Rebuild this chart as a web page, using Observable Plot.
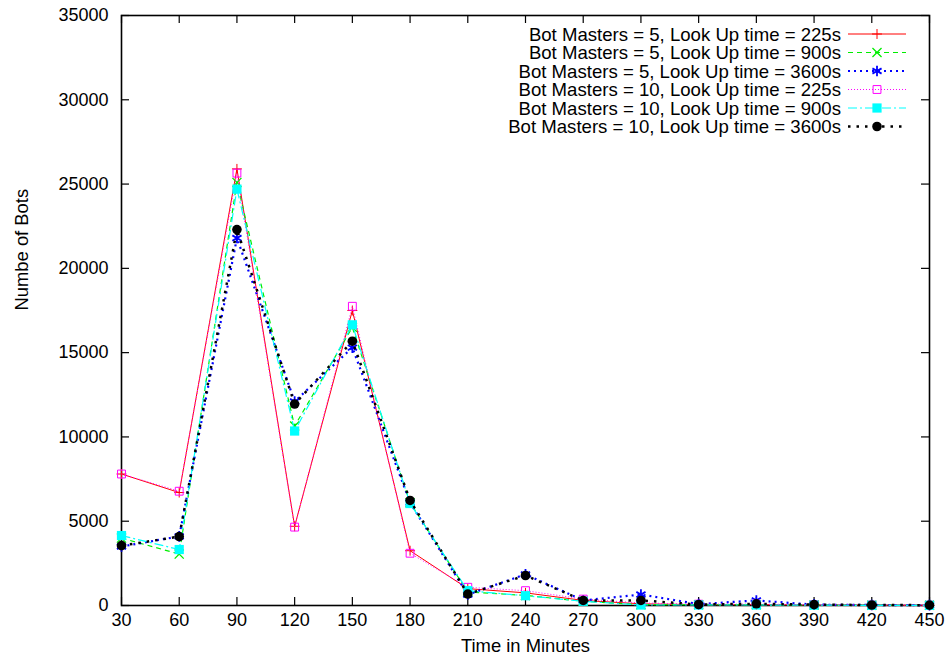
<!DOCTYPE html>
<html><head><meta charset="utf-8">
<script src="https://cdn.jsdelivr.net/npm/d3@7"></script>
<script src="https://cdn.jsdelivr.net/npm/@observablehq/plot@0.6"></script>
<style>body{margin:0;background:#fff;} #chart{width:950px;height:663px}</style>
</head><body><div id="chart"></div>
<script>
// ---- data ----
const times = [30, 60, 90, 120, 150, 180, 210, 240, 270, 300, 330, 360, 390, 420, 450];
const seriesNames = [
  "Bot Masters = 5, Look Up time = 225s",
  "Bot Masters = 5, Look Up time = 900s",
  "Bot Masters = 5, Look Up time = 3600s",
  "Bot Masters = 10, Look Up time = 225s",
  "Bot Masters = 10, Look Up time = 900s",
  "Bot Masters = 10, Look Up time = 3600s"
];
const bm5_225   = [7800, 6700, 25900, 4700, 17500, 3250, 1000, 750, 300, 100, 50, 50, 30, 20, 10];
const bm5_900   = [4000, 3050, 25100, 10650, 16500, 6100, 800, 600, 250, 50, 50, 50, 30, 20, 10];
const bm5_3600  = [3500, 4100, 21800, 12100, 15300, 6100, 650, 1850, 300, 650, 80, 300, 50, 30, 20];
const bm10_225  = [7800, 6780, 25650, 4650, 17750, 3100, 1080, 880, 380, 150, 80, 80, 50, 30, 20];
const bm10_900  = [4150, 3320, 24700, 10350, 16650, 6050, 880, 580, 250, 30, 30, 30, 20, 10, 10];
const bm10_3600 = [3550, 4090, 22300, 11950, 15680, 6230, 680, 1780, 300, 300, 60, 100, 50, 30, 20];
const xTicks = [30, 60, 90, 120, 150, 180, 210, 240, 270, 300, 330, 360, 390, 420, 450];
const yTicks = [0, 5000, 10000, 15000, 20000, 25000, 30000, 35000];
const xLabel = "Time in Minutes";
const yLabel = "Numbe of Bots";

// ---- styles ----
const allValues = [bm5_225, bm5_900, bm5_3600, bm10_225, bm10_900, bm10_3600];
const styles = [
  {color: "#ff0000", dash: null,      width: 1,   symbol: "plus",     fill: "none",    r: 3.3, sw: 1},
  {color: "#00ee00", dash: "5,4",     width: 1.2, symbol: "times",    fill: "none",    r: 4.2, sw: 1.3},
  {color: "#0000ff", dash: "2,4",     width: 2.2, symbol: "asterisk", fill: "none",    r: 5,   sw: 1.8},
  {color: "#ff00ff", dash: "1,2",     width: 1,   symbol: "square2",  fill: "none",    r: 5,   sw: 1},
  {color: "#00ffff", dash: "9,3,2,3", width: 1.2, symbol: "square",   fill: "#00ffff", r: 5.2, sw: 0},
  {color: "#000000", dash: "2.5,6",   width: 2.5, symbol: "circle",   fill: "#000000", r: 4.8, sw: 0}
];

const rows = allValues.map((vals, s) => vals.map((v, i) => ({t: times[i], v, s})));

const FONT = "'Liberation Sans', Arial, Helvetica, sans-serif";
const marks = [
  Plot.frame({stroke: "#000", strokeWidth: 1.6}),
  Plot.tickX(xTicks, {x: d => d, insetTop: 582, stroke: "#000", strokeWidth: 1.2}),
  Plot.tickX(xTicks, {x: d => d, insetBottom: 582, stroke: "#000", strokeWidth: 1.2}),
  Plot.tickY(yTicks, {y: d => d, insetLeft: 800, stroke: "#000", strokeWidth: 1.2}),
  Plot.tickY(yTicks, {y: d => d, insetRight: 800, stroke: "#000", strokeWidth: 1.2}),
  Plot.axisX({ticks: xTicks, tickSize: 0, tickPadding: 8, fontSize: 18, label: null, tickFormat: d => String(d)}),
  Plot.axisY({ticks: yTicks, tickSize: 0, tickPadding: 13, fontSize: 18, label: null, tickFormat: d => String(d)}),
  Plot.text([xLabel], {text: d => d, frameAnchor: "bottom", dy: 46, fontSize: 18.4}),
  Plot.text([yLabel], {text: d => d, frameAnchor: "left", rotate: -90, dx: -99, fontSize: 18.4})
];
rows.forEach((data, s) => {
  const st = styles[s];
  marks.push(Plot.line(data, {x: "t", y: "v", stroke: st.color, strokeWidth: st.width,
    strokeDasharray: st.dash, strokeLinecap: "butt"}));
  marks.push(Plot.dot(data, {x: "t", y: "v", symbol: st.symbol, r: st.r,
    stroke: st.sw ? st.color : "none", strokeWidth: st.sw, fill: st.fill}));
});

const svg = Plot.plot({
  width: 950, height: 663,
  marginLeft: 121, marginRight: 21, marginTop: 15, marginBottom: 58,
  style: {fontFamily: FONT, fontSize: "18px", background: "#fff", color: "#000"},
  x: {domain: [30, 450]},
  y: {domain: [0, 35000]},
  marks
});

// ---- legend (inside top right) ----
const g = d3.select(svg).append("g").attr("font-family", FONT).attr("font-size", 18.6);
const symMap = {plus: d3.symbolPlus, times: d3.symbolTimes, asterisk: d3.symbolAsterisk,
  square2: d3.symbolSquare2, square: d3.symbolSquare, circle: d3.symbolCircle};
seriesNames.forEach((name, i) => {
  const st = styles[i];
  const y = 34 + i * 18.5;
  g.append("text").attr("x", 841).attr("y", y).attr("dy", "0.35em")
    .attr("text-anchor", "end").attr("fill", "#000").text(name);
  g.append("line").attr("x1", 848).attr("x2", 906).attr("y1", y).attr("y2", y)
    .attr("stroke", st.color).attr("stroke-width", st.width)
    .attr("stroke-dasharray", st.dash);
  g.append("path").attr("transform", `translate(877,${y})`)
    .attr("d", d3.symbol(symMap[st.symbol], Math.PI * st.r * st.r)())
    .attr("stroke", st.sw ? st.color : "none").attr("stroke-width", st.sw)
    .attr("fill", st.fill);
});

document.getElementById("chart").appendChild(svg);
</script>
</body></html>
